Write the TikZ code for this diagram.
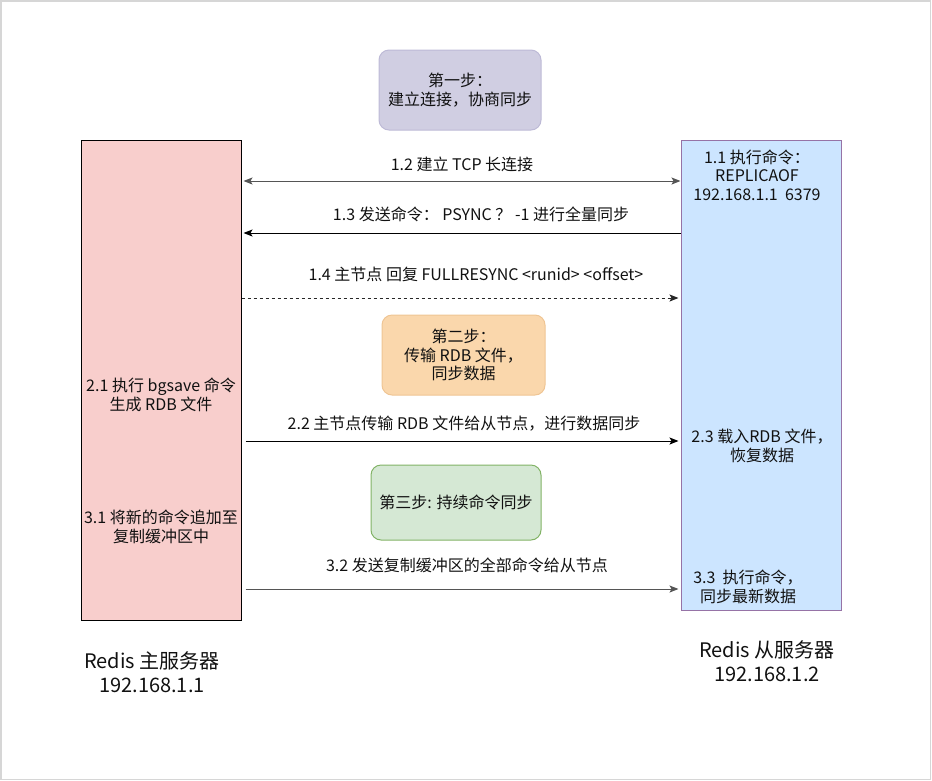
\documentclass[tikz,border=0pt]{standalone}
\usepackage{fontspec}
\setmainfont{Noto Sans CJK SC}
\usetikzlibrary{arrows.meta}
\definecolor{txt}{HTML}{111111}
\definecolor{pinkfill}{HTML}{F8CECC}
\definecolor{bluefill}{HTML}{CCE5FF}
\definecolor{bluedraw}{HTML}{9673A6}
\definecolor{s1fill}{HTML}{D0CEE2}
\definecolor{s1draw}{HTML}{BDBAD6}
\definecolor{s2fill}{HTML}{FAD7AC}
\definecolor{s2draw}{HTML}{EFC594}
\definecolor{s3fill}{HTML}{D5E8D4}
\definecolor{s3draw}{HTML}{82B366}
\definecolor{arrgray}{HTML}{555555}
\definecolor{pageline}{HTML}{D6D6D6}
\tikzset{
  server/.style={rectangle, line width=1pt, inner sep=0pt},
  stepbox/.style={rectangle, rounded corners=10pt, line width=1pt, inner sep=0pt, align=center, font=\fontsize{16}{18.5}\selectfont, text=txt},
  lbl/.style={inner sep=0pt, align=center, font=\fontsize{16}{18.5}\selectfont, text=txt},
  biglbl/.style={inner sep=0pt, align=center, font=\fontsize{20}{24}\selectfont, text=txt},
  msg/.style={line width=1pt, -{Stealth[length=9pt,width=7pt,inset=2pt]}},
}
\begin{document}
\begin{tikzpicture}[x=1pt,y=-1pt]
\useasboundingbox (0,0) rectangle (932,780);
\draw[pageline, line width=1.5pt] (0.75,0.75) rectangle (930.5,779.5);

\node[server, fill=pinkfill, draw=black, minimum width=160pt, minimum height=480pt] (master) at (161,380) {};
\node[server, fill=bluefill, draw=bluedraw, minimum width=160pt, minimum height=470pt] (slave) at (761,375) {};

\node[stepbox, fill=s1fill, draw=s1draw, minimum width=162pt, minimum height=80pt] (step1) at (460,90) {第一步：\\ 建立连接，协商同步};
\node[stepbox, fill=s2fill, draw=s2draw, minimum width=163pt, minimum height=80pt] (step2) at (463.5,355) {第二步：\\传输 RDB 文件，\\同步数据};
\node[stepbox, fill=s3fill, draw=s3draw, minimum width=170pt, minimum height=75pt] (step3) at (456,502.5) {第三步: 持续命令同步};

% texts inside servers
\node[lbl] (t21) at (161,395) {2.1 执行 bgsave 命令\\生成 RDB 文件};
\node[lbl] (t31) at (161,527) {3.1 将新的命令追加至\\复制缓冲区中};
\node[lbl] (t11) at (757,175) {1.1 执行命令：\\ REPLICAOF\\192.168.1.1\ \ 6379};
\node[lbl] (t23) at (762,446) {2.3 载入RDB 文件，\\恢复数据};
\node[lbl] (t33) at (748,587) {3.3\ \ 执行命令，\\同步最新数据};

% server captions
\node[biglbl] (capm) at (152,672) {Redis 主服务器\\192.168.1.1};
\node[biglbl] (caps) at (767,661) {Redis 从服务器\\192.168.1.2};

% connectors
\coordinate (y12) at (0,181);
\coordinate (y13) at (0,233);
\coordinate (y14) at (0,298);
\coordinate (y22) at (0,441);
\coordinate (y32) at (0,589);

\draw[msg, arrgray, {Stealth[length=9pt,width=7pt,inset=2pt]}-{Stealth[length=9pt,width=7pt,inset=2pt]}] ([xshift=2pt]master.east |- y12) -- (slave.west |- y12);
\draw[msg, black] (slave.west |- y13) -- ([xshift=2pt]master.east |- y13);
\draw[msg, black!85, dashed, dash pattern=on 3pt off 3pt] (master.east |- y14) -- ([xshift=-2pt]slave.west |- y14);
\draw[msg, black] ([xshift=4pt]master.east |- y22) -- ([xshift=-2pt]slave.west |- y22);
\draw[msg, arrgray] ([xshift=4pt]master.east |- y32) -- ([xshift=-2pt]slave.west |- y32);

\node[lbl] (l12) at (462,164) {1.2 建立 TCP 长连接};
\node[lbl] (l13) at (481,214) {1.3 发送命令： PSYNC ？ -1 进行全量同步};
\node[lbl] (l14) at (476,274) {1.4 主节点 回复 FULLRESYNC <runid> <offset>};
\node[lbl] (l22) at (464,424) {2.2 主节点传输 RDB 文件给从节点，进行数据同步};
\node[lbl] (l32) at (467,565) {3.2 发送复制缓冲区的全部命令给从节点};
\end{tikzpicture}
\end{document}
